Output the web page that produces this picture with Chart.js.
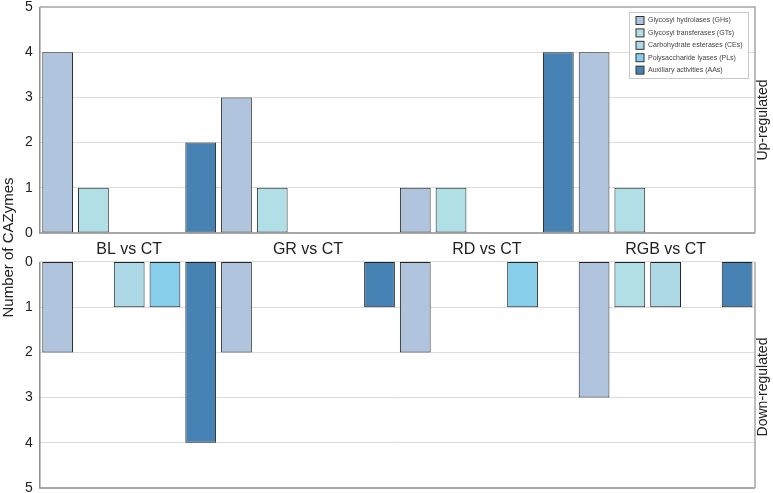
<!DOCTYPE html>
<html>
<head>
<meta charset="utf-8">
<script src="https://cdn.jsdelivr.net/npm/chart.js@4"></script>
<style>
  html, body { margin: 0; padding: 0; background: #fff; }
  #wrap { width: 773px; height: 493px; position: relative; }
</style>
</head>
<body>
<div id="wrap"><canvas id="cazyChart"></canvas></div>
<script>
const categories = ['BL vs CT', 'GR vs CT', 'RD vs CT', 'RGB vs CT'];
const seriesNames = [
    'Glycosyl hydrolases (GHs)',
    'Glycosyl transferases (GTs)',
    'Carbohydrate esterases (CEs)',
    'Polysaccharide lyases (PLs)',
    'Auxiliary activities (AAs)'
];
const seriesColors = ['#b0c4de', '#b0e0e6', '#add8e6', '#87ceeb', '#4682b4'];

// up-regulated counts per category
const upGH = [4, 3, 1, 4];
const upGT = [1, 1, 1, 1];
const upCE = [0, 0, 0, 0];
const upPL = [0, 0, 0, 0];
const upAA = [2, 0, 4, 0];

// down-regulated counts per category
const downGH = [2, 2, 2, 3];
const downGT = [0, 0, 0, 1];
const downCE = [1, 0, 0, 1];
const downPL = [1, 0, 1, 0];
const downAA = [4, 1, 0, 1];

const tickLabels = [0, 1, 2, 3, 4, 5];
const panelTitles = ['Up-regulated', 'Down-regulated'];

const GAP = 0.64; // space between the two panels, in value units
const MAXV = 5;

const upSeries = [upGH, upGT, upCE, upPL, upAA];
const downSeries = [downGH, downGT, downCE, downPL, downAA];

const datasets = [];
seriesNames.forEach((name, i) => {
    datasets.push({
        label: name,
        data: upSeries[i],
        stack: 's' + i,
        backgroundColor: seriesColors[i]
    });
});
seriesNames.forEach((name, i) => {
    datasets.push({
        label: name + ' down',
        data: downSeries[i].map(v => [-GAP, -GAP - v]),
        stack: 's' + i,
        backgroundColor: seriesColors[i]
    });
});

// frame lines, side titles and legend
const panelPlugin = {
    id: 'panels',
    afterDatasetsDraw(chart) {
        const ctx = chart.ctx;
        const y = chart.scales.y;
        const {left, right} = chart.chartArea;
        const yTop = y.getPixelForValue(MAXV);
        const y0 = y.getPixelForValue(0);
        const yb0 = y.getPixelForValue(-GAP);
        const yb5 = y.getPixelForValue(-GAP - MAXV);

        ctx.save();
        ctx.lineWidth = 1.5;
        ctx.strokeStyle = '#8c8c8c';
        ctx.beginPath();
        ctx.moveTo(left, yTop); ctx.lineTo(left, y0); ctx.lineTo(right, y0);
        ctx.moveTo(left, yb0); ctx.lineTo(left, yb5); ctx.lineTo(right, yb5);
        ctx.stroke();
        ctx.strokeStyle = '#a6a6a6';
        ctx.beginPath();
        ctx.moveTo(left, yTop); ctx.lineTo(right, yTop); ctx.lineTo(right, y0);
        ctx.moveTo(right, yb0); ctx.lineTo(right, yb5);
        ctx.stroke();

        // side titles
        ctx.fillStyle = '#222';
        ctx.font = '14px "Liberation Sans", Arial, sans-serif';
        ctx.textAlign = 'center';
        ctx.textBaseline = 'middle';
        const mids = [(yTop + y0) / 2, (yb0 + yb5) / 2 + 12];
        panelTitles.forEach((t, i) => {
            ctx.save();
            ctx.translate(right + 8, mids[i]);
            ctx.rotate(-Math.PI / 2);
            ctx.fillText(t, 0, 0);
            ctx.restore();
        });

        // legend box
        const lx = right - 126, ly = yTop + 5, lw = 119, lh = 66;
        ctx.fillStyle = '#fff';
        ctx.fillRect(lx, ly, lw, lh);
        ctx.lineWidth = 1;
        ctx.strokeStyle = '#c8c8c8';
        ctx.strokeRect(lx + 0.5, ly + 0.5, lw, lh);
        ctx.font = '7px "Liberation Sans", Arial, sans-serif';
        ctx.textAlign = 'left';
        seriesNames.forEach((name, i) => {
            const cy = ly + 8.5 + i * 12.4;
            ctx.fillStyle = seriesColors[i];
            ctx.fillRect(lx + 7, cy - 4, 8, 8);
            ctx.strokeStyle = '#333';
            ctx.strokeRect(lx + 7, cy - 4, 8, 8);
            ctx.fillStyle = '#444';
            ctx.fillText(name, lx + 19, cy);
        });
        ctx.restore();
    }
};

Chart.defaults.font.family = '"Liberation Sans", Arial, sans-serif';
Chart.defaults.color = '#222';

const ctx = document.getElementById('cazyChart').getContext('2d');
new Chart(ctx, {
    type: 'bar',
    data: {
        labels: categories,
        datasets
    },
    options: {
        responsive: true,
        maintainAspectRatio: false,
        animation: false,
        categoryPercentage: 1.0,
        barPercentage: 0.86,
        borderColor: '#222',
        borderWidth: 1,
        borderSkipped: false,
        layout: {
            padding: { left: 0, right: 18, top: 0, bottom: 0 }
        },
        plugins: {
            legend: { display: false },
            tooltip: { enabled: false }
        },
        scales: {
            x: {
                position: { y: 0 },
                grid: { display: false },
                border: { display: false },
                ticks: {
                    font: { size: 16 },
                    padding: -1,
                    color: '#222'
                }
            },
            y: {
                stacked: false,
                min: -GAP - MAXV,
                max: MAXV,
                afterBuildTicks: scale => {
                    const up = tickLabels.map(v => ({ value: v }));
                    const down = tickLabels.map(v => ({ value: -GAP - v }));
                    scale.ticks = up.reverse().concat(down);
                },
                afterFit: scale => {
                    scale.paddingTop = 7;
                    scale.paddingBottom = 5;
                },
                ticks: {
                    font: { size: 14 },
                    padding: 7,
                    color: '#222',
                    callback: v => v >= 0 ? v : Math.round(-v - GAP)
                },
                grid: {
                    drawTicks: false,
                    color: c => {
                        const v = c.tick ? c.tick.value : 0;
                        if (v === MAXV || v === 0 || v === -GAP - MAXV) return 'rgba(0,0,0,0)';
                        return '#dcdcdc';
                    }
                },
                border: { display: false },
                title: {
                    display: true,
                    text: 'Number of CAZymes',
                    font: { size: 15 },
                    color: '#222',
                    padding: { top: 0, bottom: 0 }
                }
            }
        }
    },
    plugins: [panelPlugin]
});
</script>
</body>
</html>
